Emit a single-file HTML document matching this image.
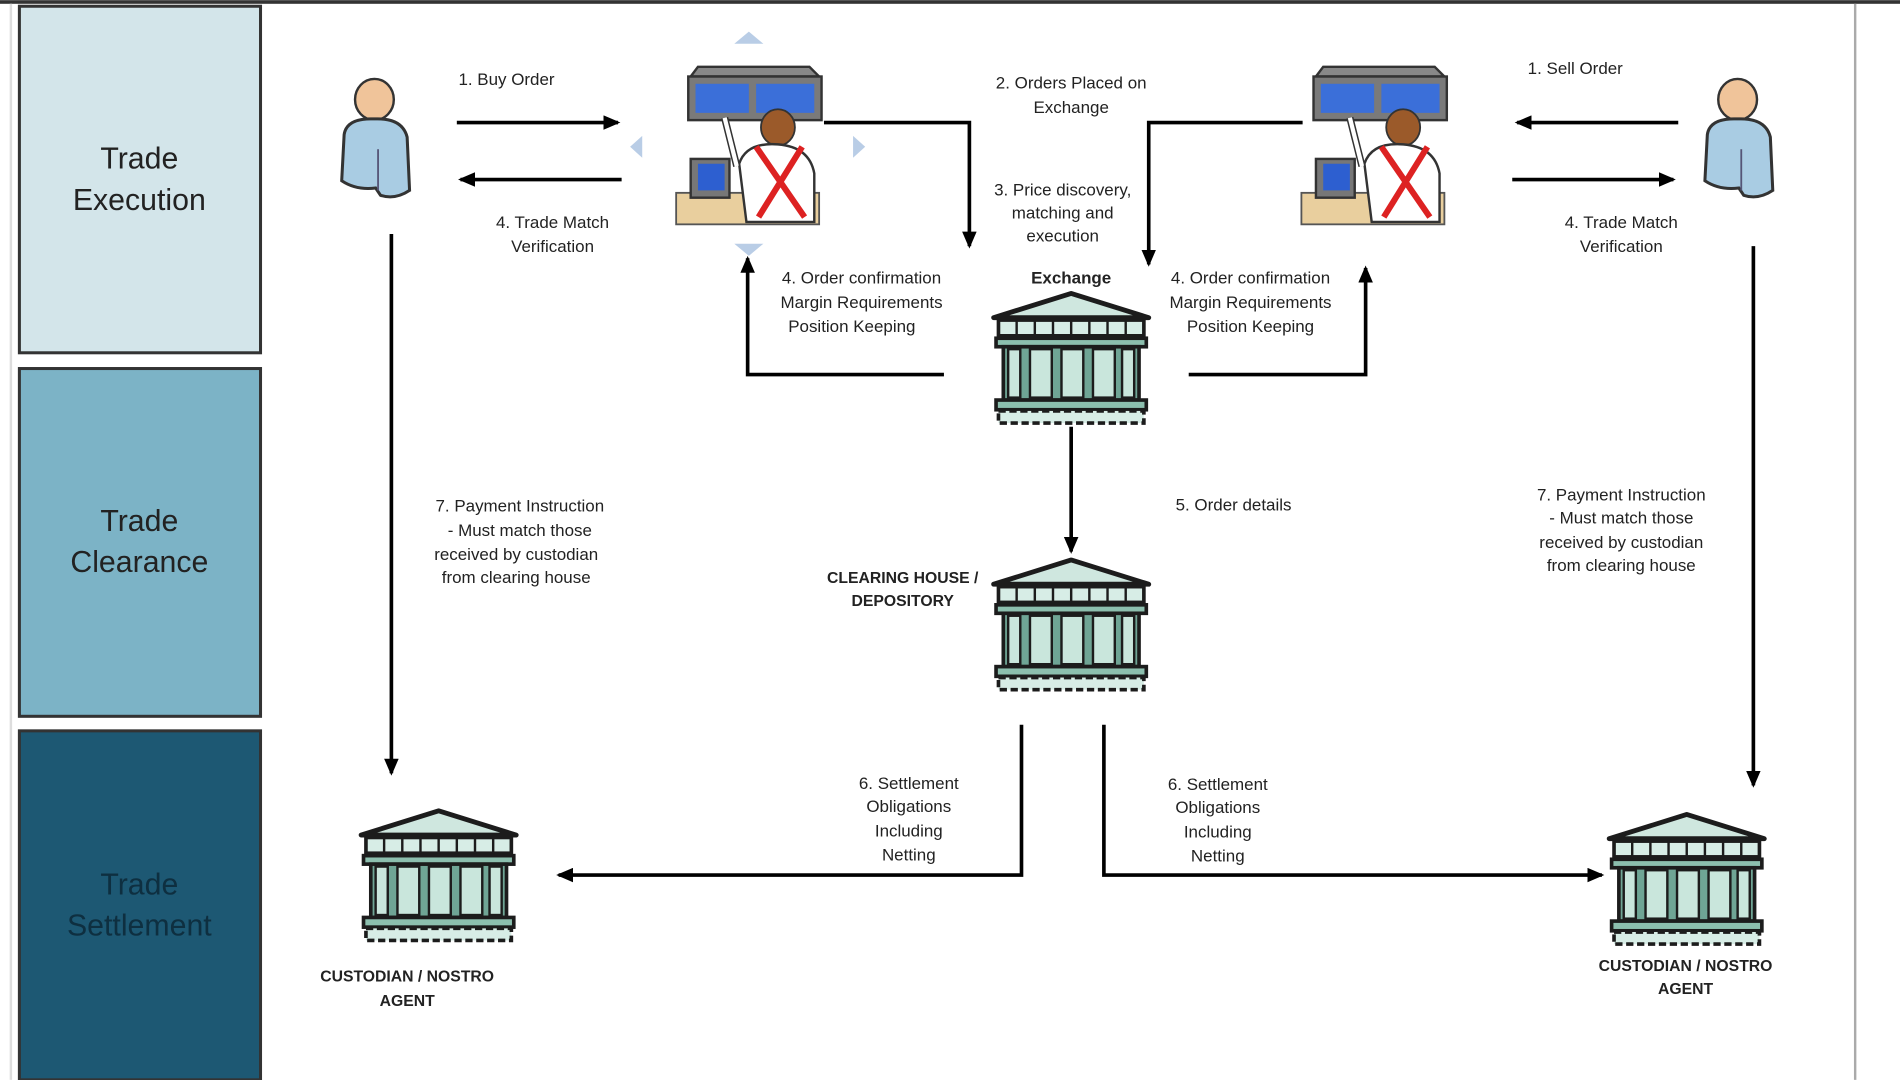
<!DOCTYPE html>
<html><head><meta charset="utf-8"><style>
html,body{margin:0;padding:0;background:#fff;}
svg{display:block;}
text{font-family:"Liberation Sans",sans-serif;fill:#222;}
</style></head><body>
<svg width="1900" height="1080" viewBox="0 0 1568 891" xmlns="http://www.w3.org/2000/svg">
<defs>
<marker id="ah" markerWidth="14" markerHeight="12" refX="12" refY="6" orient="auto" markerUnits="userSpaceOnUse"><path d="M0,0 L14,6 L0,12 z" fill="#000"/></marker>
<g id="bank">
<path d="M2,22 L66,2 L130,22 Z" fill="#cfe7df" stroke="#1c1c1c" stroke-width="4" stroke-linejoin="round"/>
<rect x="6" y="24" width="120" height="13" fill="#d7ede6" stroke="#1c1c1c" stroke-width="3"/>
<g stroke="#1c1c1c" stroke-width="2"><line x1="21" y1="24" x2="21" y2="37"/><line x1="36" y1="24" x2="36" y2="37"/><line x1="51" y1="24" x2="51" y2="37"/><line x1="66" y1="24" x2="66" y2="37"/><line x1="81" y1="24" x2="81" y2="37"/><line x1="96" y1="24" x2="96" y2="37"/><line x1="111" y1="24" x2="111" y2="37"/></g>
<rect x="4" y="39" width="124" height="7" fill="#8cbfae" stroke="#1c1c1c" stroke-width="3"/>
<rect x="10" y="46" width="112" height="44" fill="#6fa595" stroke="#1c1c1c" stroke-width="3"/>
<g fill="#c9e6dc" stroke="#1c1c1c" stroke-width="2"><rect x="14" y="48" width="10" height="40"/><rect x="32" y="48" width="18" height="40"/><rect x="58" y="48" width="18" height="40"/><rect x="84" y="48" width="18" height="40"/><rect x="108" y="48" width="10" height="40"/></g>
<rect x="4" y="90" width="124" height="8" fill="#8cbfae" stroke="#1c1c1c" stroke-width="3"/>
<rect x="6" y="99" width="120" height="10" fill="#d7ede6" stroke="#1c1c1c" stroke-width="3" stroke-dasharray="6 3"/>
</g>
<g id="person">
<ellipse cx="33" cy="17" rx="16" ry="17" fill="#f0c49a" stroke="#333" stroke-width="2"/>
<path d="M8,46 Q10,32 33,33 Q56,32 60,48 L62,92 Q50,100 38,96 L34,90 Q18,92 6,84 Z" fill="#a9cce3" stroke="#333" stroke-width="2.5"/>
<path d="M36,58 L36,92" stroke="#557" stroke-width="1.5"/>
</g>
<g id="trader">
<path d="M6,8 L12,0 L104,0 L112,8 Z" fill="#888" stroke="#333" stroke-width="2"/>
<rect x="4" y="8" width="110" height="36" fill="#7a7a7a" stroke="#333" stroke-width="2"/>
<rect x="10" y="14" width="44" height="24" fill="#3b6fd9"/><rect x="60" y="14" width="48" height="24" fill="#3b6fd9"/>
<rect x="-6" y="104" width="118" height="26" fill="#e9cf9e" stroke="#555" stroke-width="1.5"/>
<rect x="6" y="76" width="32" height="32" fill="#777" stroke="#333" stroke-width="2"/><rect x="12" y="80" width="22" height="22" fill="#2d5fd0"/>
<ellipse cx="78" cy="50" rx="14" ry="15" fill="#9b5a2a" stroke="#333" stroke-width="1.5"/>
<path d="M46,80 Q52,62 78,64 Q104,66 108,88 L108,128 L52,128 Z" fill="#fff" stroke="#333" stroke-width="2"/>
<path d="M60,66 L100,124 M98,66 L62,124" stroke="#d22" stroke-width="5"/>
<path d="M44,82 L34,42" stroke="#333" stroke-width="6"/><path d="M44,82 L34,42" stroke="#fff" stroke-width="3.5"/>
</g>
</defs>

<rect x="0" y="0" width="1568" height="3" fill="#333"/>
<line x1="1531" y1="3" x2="1531" y2="891" stroke="#aaa" stroke-width="2"/>
<line x1="9" y1="3" x2="9" y2="891" stroke="#ddd" stroke-width="2"/>

<rect x="16" y="5" width="199" height="286" fill="#d3e5ea" stroke="#333" stroke-width="2.5"/>
<text x="115" y="139" font-size="25" text-anchor="middle">Trade</text>
<text x="115" y="173" font-size="25" text-anchor="middle">Execution</text>
<rect x="16" y="304" width="199" height="287" fill="#7cb3c6" stroke="#333" stroke-width="2.5"/>
<text x="115" y="438" font-size="25" text-anchor="middle">Trade</text>
<text x="115" y="472" font-size="25" text-anchor="middle">Clearance</text>
<rect x="16" y="603" width="199" height="288" fill="#1d5873" stroke="#333" stroke-width="2.5"/>
<text x="115" y="738" font-size="25" text-anchor="middle" style="fill:#0e2f40">Trade</text>
<text x="115" y="772" font-size="25" text-anchor="middle" style="fill:#0e2f40">Settlement</text>

<use href="#person" x="276" y="65"/>
<use href="#person" x="1401" y="65"/>
<use href="#trader" x="564" y="55"/>
<use href="#trader" x="1080" y="55"/>
<g fill="#b9cde6"><path d="M606,36 L618,26 L630,36Z"/><path d="M606,201 L618,211 L630,201Z"/><path d="M530,112 L520,121 L530,130Z"/><path d="M704,112 L714,121 L704,130Z"/></g>

<use href="#bank" x="818" y="240"/>
<use href="#bank" x="818" y="460"/>
<use href="#bank" x="296" y="667"/>
<use href="#bank" x="1326" y="670"/>

<g stroke="#000" stroke-width="3" fill="none" marker-end="url(#ah)">
<line x1="377" y1="101" x2="510" y2="101"/>
<line x1="513" y1="148" x2="380" y2="148"/>
<line x1="1385" y1="101" x2="1252" y2="101"/>
<line x1="1248" y1="148" x2="1381" y2="148"/>
<polyline points="680,101 800,101 800,203"/>
<polyline points="1075,101 948,101 948,218"/>
<polyline points="779,309 617,309 617,213"/>
<polyline points="981,309 1127,309 1127,221"/>
<line x1="884" y1="352" x2="884" y2="455"/>
<polyline points="843,598 843,722 461,722"/>
<polyline points="911,598 911,722 1322,722"/>
<line x1="323" y1="193" x2="323" y2="638"/>
<line x1="1447" y1="203" x2="1447" y2="648"/>
</g>

<g font-size="14" text-anchor="middle">
<text x="418" y="70">1. Buy Order</text>
<text x="456" y="188">4. Trade Match</text><text x="456" y="208">Verification</text>
<text x="884" y="73">2. Orders Placed on</text><text x="884" y="93">Exchange</text>
<text x="877" y="161">3. Price discovery,</text><text x="877" y="180">matching and</text><text x="877" y="199">execution</text>
<text x="711" y="234">4. Order confirmation</text><text x="711" y="254">Margin Requirements</text><text x="703" y="274">Position Keeping</text>
<text x="1032" y="234">4. Order confirmation</text><text x="1032" y="254">Margin Requirements</text><text x="1032" y="274">Position Keeping</text>
<text x="884" y="234" font-weight="bold">Exchange</text>
<text x="1300" y="61">1. Sell Order</text>
<text x="1338" y="188">4. Trade Match</text><text x="1338" y="208">Verification</text>
<text x="1018" y="421">5. Order details</text>
<text x="429" y="422">7. Payment Instruction</text><text x="429" y="442">- Must match those</text><text x="426" y="462">received by custodian</text><text x="426" y="481">from clearing house</text>
<text x="1338" y="413">7. Payment Instruction</text><text x="1338" y="432">- Must match those</text><text x="1338" y="452">received by custodian</text><text x="1338" y="471">from clearing house</text>
<text x="745" y="481" font-weight="bold" font-size="13">CLEARING HOUSE /</text><text x="745" y="500" font-weight="bold" font-size="13">DEPOSITORY</text>
<text x="750" y="651">6. Settlement</text><text x="750" y="670">Obligations</text><text x="750" y="690">Including</text><text x="750" y="710">Netting</text>
<text x="1005" y="652">6. Settlement</text><text x="1005" y="671">Obligations</text><text x="1005" y="691">Including</text><text x="1005" y="711">Netting</text>
<text x="336" y="810" font-weight="bold" font-size="13">CUSTODIAN / NOSTRO</text><text x="336" y="830" font-weight="bold" font-size="13">AGENT</text>
<text x="1391" y="801" font-weight="bold" font-size="13">CUSTODIAN / NOSTRO</text><text x="1391" y="820" font-weight="bold" font-size="13">AGENT</text>
</g>
</svg>
</body></html>
